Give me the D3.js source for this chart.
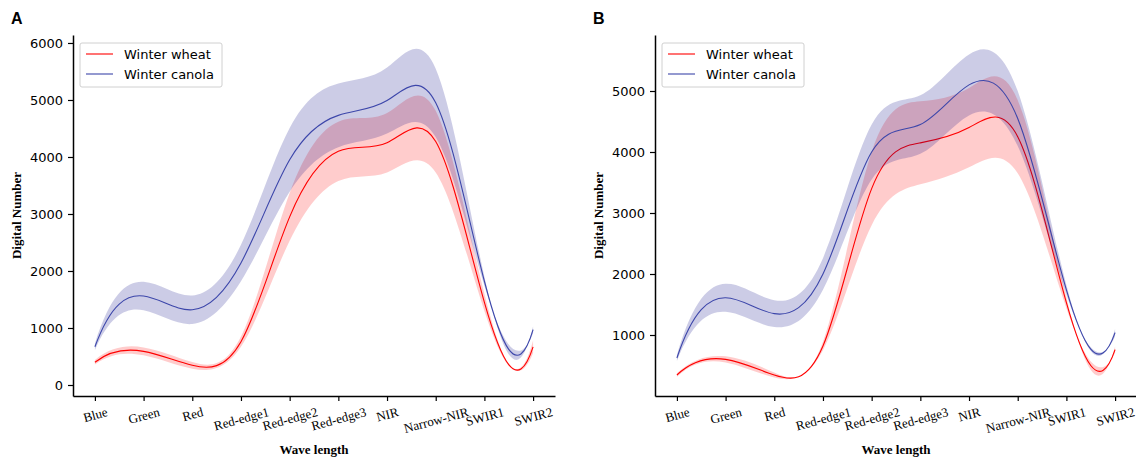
<!DOCTYPE html>
<html>
<head>
<meta charset="utf-8">
<script src="https://cdn.jsdelivr.net/npm/d3@7"></script>
<style>
  body { margin: 0; background: #fff; }
  svg { display: block; }
</style>
</head>
<body>
<svg id="chart" width="1136" height="461"></svg>
<script>
// band names on the x axis
const bands = ["Blue", "Green", "Red", "Red-edge1", "Red-edge2", "Red-edge3", "NIR", "Narrow-NIR", "SWIR1", "SWIR2"];
const seriesNames = ["Winter wheat", "Winter canola"];

// panel A: mean and std per band
const wheatMeanA  = [400, 590, 345, 760, 2950, 4100, 4250, 4270, 1450, 670];
const wheatStdA   = [40, 70, 60, 90, 420, 520, 520, 540, 150, 110];
const canolaMeanA = [670, 1560, 1320, 2140, 3950, 4730, 4990, 4950, 1820, 970];
const canolaStdA  = [60, 250, 250, 320, 560, 560, 580, 600, 80, 60];
const yTicksA = [0, 1000, 2000, 3000, 4000, 5000, 6000];

// panel B
const wheatMeanB  = [344, 600, 344, 820, 3400, 4150, 4400, 4250, 1530, 760];
const wheatStdB   = [30, 50, 40, 70, 600, 680, 650, 600, 90, 50];
const canolaMeanB = [623, 1610, 1350, 2000, 4000, 4450, 5100, 4550, 1740, 1040];
const canolaStdB  = [50, 230, 220, 260, 450, 480, 500, 450, 80, 60];
const yTicksB = [1000, 2000, 3000, 4000, 5000];

// cubic spline with "not-a-knot" ends (like scipy's default), as a d3 curve
function splineSecond(x, y) {
  const n = x.length, h = [];
  for (let i = 0; i < n - 1; i++) h.push(x[i + 1] - x[i]);
  const A = Array.from({ length: n }, () => new Array(n).fill(0));
  const b = new Array(n).fill(0);
  A[0][0] = h[1]; A[0][1] = -(h[0] + h[1]); A[0][2] = h[0];
  for (let i = 1; i < n - 1; i++) {
    A[i][i - 1] = h[i - 1]; A[i][i] = 2 * (h[i - 1] + h[i]); A[i][i + 1] = h[i];
    b[i] = 6 * ((y[i + 1] - y[i]) / h[i] - (y[i] - y[i - 1]) / h[i - 1]);
  }
  A[n - 1][n - 3] = h[n - 2]; A[n - 1][n - 2] = -(h[n - 3] + h[n - 2]); A[n - 1][n - 1] = h[n - 3];
  // gaussian elimination
  for (let c = 0; c < n; c++) {
    let p = c;
    for (let r = c + 1; r < n; r++) if (Math.abs(A[r][c]) > Math.abs(A[p][c])) p = r;
    [A[c], A[p]] = [A[p], A[c]]; [b[c], b[p]] = [b[p], b[c]];
    for (let r = c + 1; r < n; r++) {
      const f = A[r][c] / A[c][c];
      if (!f) continue;
      for (let k = c; k < n; k++) A[r][k] -= f * A[c][k];
      b[r] -= f * b[c];
    }
  }
  const M = new Array(n).fill(0);
  for (let r = n - 1; r >= 0; r--) {
    let s = b[r];
    for (let k = r + 1; k < n; k++) s -= A[r][k] * M[k];
    M[r] = s / A[r][r];
  }
  return { h, M };
}

function NotAKnot(context) { this._context = context; }
NotAKnot.prototype = {
  areaStart() { this._line = 0; },
  areaEnd() { this._line = NaN; },
  lineStart() { this._x = []; this._y = []; },
  point(x, y) { this._x.push(+x); this._y.push(+y); },
  lineEnd() {
    const x = this._x, y = this._y, n = x.length, ctx = this._context;
    if (n) {
      this._line ? ctx.lineTo(x[0], y[0]) : ctx.moveTo(x[0], y[0]);
      if (n < 4) {
        for (let i = 1; i < n; i++) ctx.lineTo(x[i], y[i]);
      } else {
        const { h, M } = splineSecond(x, y);
        for (let i = 0; i < n - 1; i++) {
          const d = (y[i + 1] - y[i]) / h[i];
          const s0 = d - h[i] * (2 * M[i] + M[i + 1]) / 6;
          const s1 = d + h[i] * (M[i] + 2 * M[i + 1]) / 6;
          ctx.bezierCurveTo(x[i] + h[i] / 3, y[i] + s0 * h[i] / 3,
                            x[i + 1] - h[i] / 3, y[i + 1] - s1 * h[i] / 3,
                            x[i + 1], y[i + 1]);
        }
      }
    }
    if (this._line || (this._line !== 0 && n === 1)) ctx.closePath();
    this._line = 1 - this._line;
    this._x = this._y = null;
  }
};
const curveNotAKnot = context => new NotAKnot(context);

const svg = d3.select("#chart");
svg.append("rect").attr("width", 1136).attr("height", 461).attr("fill", "#fff");

const colors = { wheat: "#ff0000", canola: "#3c46aa", wheatFill: "rgba(255,0,0,0.2)", canolaFill: "rgba(0,0,128,0.2)" };

function drawPanel(p) {
  const g = svg.append("g");
  const top = 35, bottom = 396;

  const x = d3.scalePoint().domain(bands).range([p.left, p.right]).padding(0.45);
  const y = d3.scaleLinear().domain(p.yDomain).range([bottom, top]);

  const series = [
    { mean: p.wheatMean, std: p.wheatStd, line: colors.wheat, fill: colors.wheatFill },
    { mean: p.canolaMean, std: p.canolaStd, line: colors.canola, fill: colors.canolaFill }
  ];

  series.forEach(s => {
    const rows = bands.map((b, i) => ({ band: b, m: s.mean[i], sd: s.std[i] }));
    const area = d3.area()
      .x(d => x(d.band))
      .y0(d => y(d.m - d.sd))
      .y1(d => y(d.m + d.sd))
      .curve(curveNotAKnot);
    const line = d3.line()
      .x(d => x(d.band))
      .y(d => y(d.m))
      .curve(curveNotAKnot);
    g.append("path").datum(rows).attr("d", area).attr("fill", s.fill).attr("stroke", "none");
    g.append("path").datum(rows).attr("d", line).attr("fill", "none")
      .attr("stroke", s.line).attr("stroke-width", 1.1);
  });

  // y axis
  const yAxis = g.append("g").attr("transform", `translate(${p.left},0)`)
    .call(d3.axisLeft(y).tickValues(p.yTicks).tickSize(5).tickSizeOuter(0).tickPadding(5).tickFormat(d3.format("d")));
  yAxis.select(".domain").attr("stroke", "#000").attr("stroke-width", 1.5);
  yAxis.selectAll(".tick line").attr("stroke", "#000").attr("stroke-width", 1.2);
  yAxis.selectAll("text").attr("fill", "#000")
    .style("font-family", "'DejaVu Sans', sans-serif").style("font-size", "13px");

  // x axis with slanted serif labels
  const xAxis = g.append("g").attr("transform", `translate(0,${bottom})`)
    .call(d3.axisBottom(x).tickSize(5).tickSizeOuter(0));
  xAxis.select(".domain").attr("stroke", "#000").attr("stroke-width", 1.5);
  xAxis.selectAll(".tick line").attr("stroke", "#000").attr("stroke-width", 1.2);
  const ang = 15 * Math.PI / 180;
  xAxis.selectAll("text")
    .attr("fill", "#000")
    .style("font-family", "'Liberation Serif', 'Times New Roman', serif")
    .style("font-size", "13px")
    .each(function () {
      const w = this.getComputedTextLength();
      const bh = w * Math.sin(ang) + 12 * Math.cos(ang);
      d3.select(this).attr("y", 0).attr("dy", "0.32em")
        .attr("transform", `translate(0,${10 + bh / 2}) rotate(-15)`);
    });

  // axis titles
  g.append("text").attr("x", (p.left + p.right) / 2).attr("y", 454)
    .attr("text-anchor", "middle")
    .style("font-family", "'Liberation Serif', 'Times New Roman', serif")
    .style("font-size", "13px").style("font-weight", "bold")
    .text("Wave length");
  g.append("text")
    .attr("transform", `translate(${p.left - 52},${(top + bottom) / 2}) rotate(-90)`)
    .attr("text-anchor", "middle")
    .style("font-family", "'Liberation Serif', 'Times New Roman', serif")
    .style("font-size", "13px").style("font-weight", "bold")
    .text("Digital Number");

  // panel letter
  g.append("text").attr("x", p.left - 62).attr("y", 24)
    .style("font-family", "'Liberation Sans', Arial, sans-serif")
    .style("font-size", "16px").style("font-weight", "bold")
    .text(p.letter);

  // legend
  const lg = g.append("g").attr("transform", `translate(${p.left + 7},43)`);
  lg.append("rect").attr("width", 142).attr("height", 44).attr("rx", 2)
    .attr("fill", "#fff").attr("stroke", "#d0d0d0").attr("stroke-width", 1);
  seriesNames.forEach((name, i) => {
    const yy = 11 + i * 20;
    lg.append("line").attr("x1", 6).attr("x2", 33).attr("y1", yy).attr("y2", yy)
      .attr("stroke", i === 0 ? colors.wheat : colors.canola).attr("stroke-width", 1.1);
    lg.append("text").attr("x", 44).attr("y", yy + 5)
      .style("font-family", "'DejaVu Sans', sans-serif").style("font-size", "13px")
      .attr("fill", "#000").text(name);
  });
}

drawPanel({
  letter: "A", left: 73, right: 555, yDomain: [-193, 6140], yTicks: yTicksA,
  wheatMean: wheatMeanA, wheatStd: wheatStdA, canolaMean: canolaMeanA, canolaStd: canolaStdA
});
drawPanel({
  letter: "B", left: 655, right: 1137, yDomain: [0, 5918], yTicks: yTicksB,
  wheatMean: wheatMeanB, wheatStd: wheatStdB, canolaMean: canolaMeanB, canolaStd: canolaStdB
});
</script>
</body>
</html>
